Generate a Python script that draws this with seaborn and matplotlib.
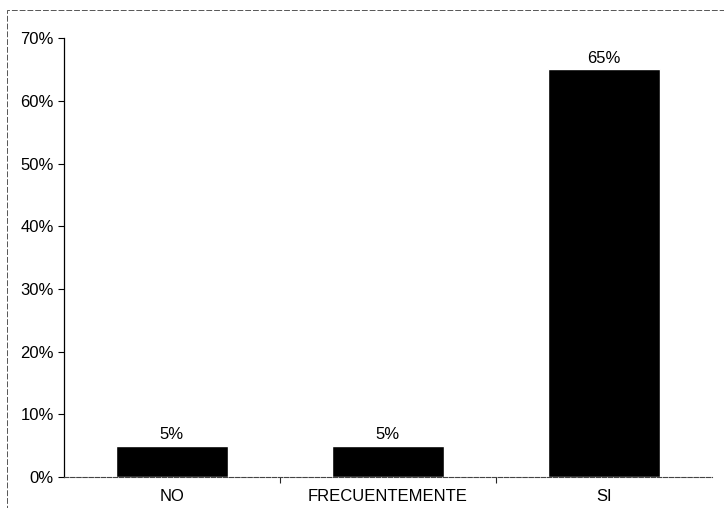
import matplotlib
matplotlib.use("Agg")
import matplotlib.pyplot as plt
import seaborn as sns
import pandas as pd
from matplotlib.ticker import PercentFormatter
from matplotlib.patches import Rectangle

categories = ["NO", "FRECUENTEMENTE", "SI"]
values = [5, 5, 65]
value_labels = ["5%", "5%", "65%"]
y_ticks = [0, 10, 20, 30, 40, 50, 60, 70]

sns.set_style("white")
plt.rcParams['font.family'] = ['Liberation Sans', 'DejaVu Sans']

df = pd.DataFrame({"respuesta": categories, "pct": values})

fig = plt.figure(figsize=(7.24, 5.08), dpi=100)
ax = fig.add_axes([0.088, 0.061, 0.895, 0.864])

sns.barplot(data=df, x="respuesta", y="pct", color="black", width=0.52,
            saturation=1, ax=ax)

# value labels on top of each bar
for i, (v, lab) in enumerate(zip(values, value_labels)):
    ax.text(i, v + 0.6, lab, ha="center", va="bottom", fontsize=12, color="black")

ax.set_ylim(0, 70)
ax.set_xlim(-0.5, 2.5)
ax.set_yticks(y_ticks)
ax.yaxis.set_major_formatter(PercentFormatter(decimals=0))
ax.set_xlabel("")
ax.set_ylabel("")
ax.tick_params(axis="y", left=True, direction="out", length=4, width=0.8,
               labelsize=12, pad=3, colors="black")
ax.tick_params(axis="x", bottom=False, labelsize=12, pad=5, colors="black")
ax.set_xticks([0.5, 1.5], minor=True)
ax.tick_params(axis="x", which="minor", bottom=True, direction="out", length=4, width=0.8)

for s in ["top", "right"]:
    ax.spines[s].set_visible(False)
ax.spines["left"].set_color("black")
ax.spines["left"].set_linewidth(0.9)
ax.spines["bottom"].set_color("#444444")
ax.spines["bottom"].set_linewidth(0.8)
ax.spines["bottom"].set_linestyle((0, (4, 1.5)))

# faint scanned frame around the chart
fig.patches.append(Rectangle((0.009, -0.01), 1.2, 0.99, transform=fig.transFigure,
                             fill=False, edgecolor="#555555", linewidth=0.7,
                             linestyle=(0, (6, 2))))

fig.savefig("out.png", dpi=100)
